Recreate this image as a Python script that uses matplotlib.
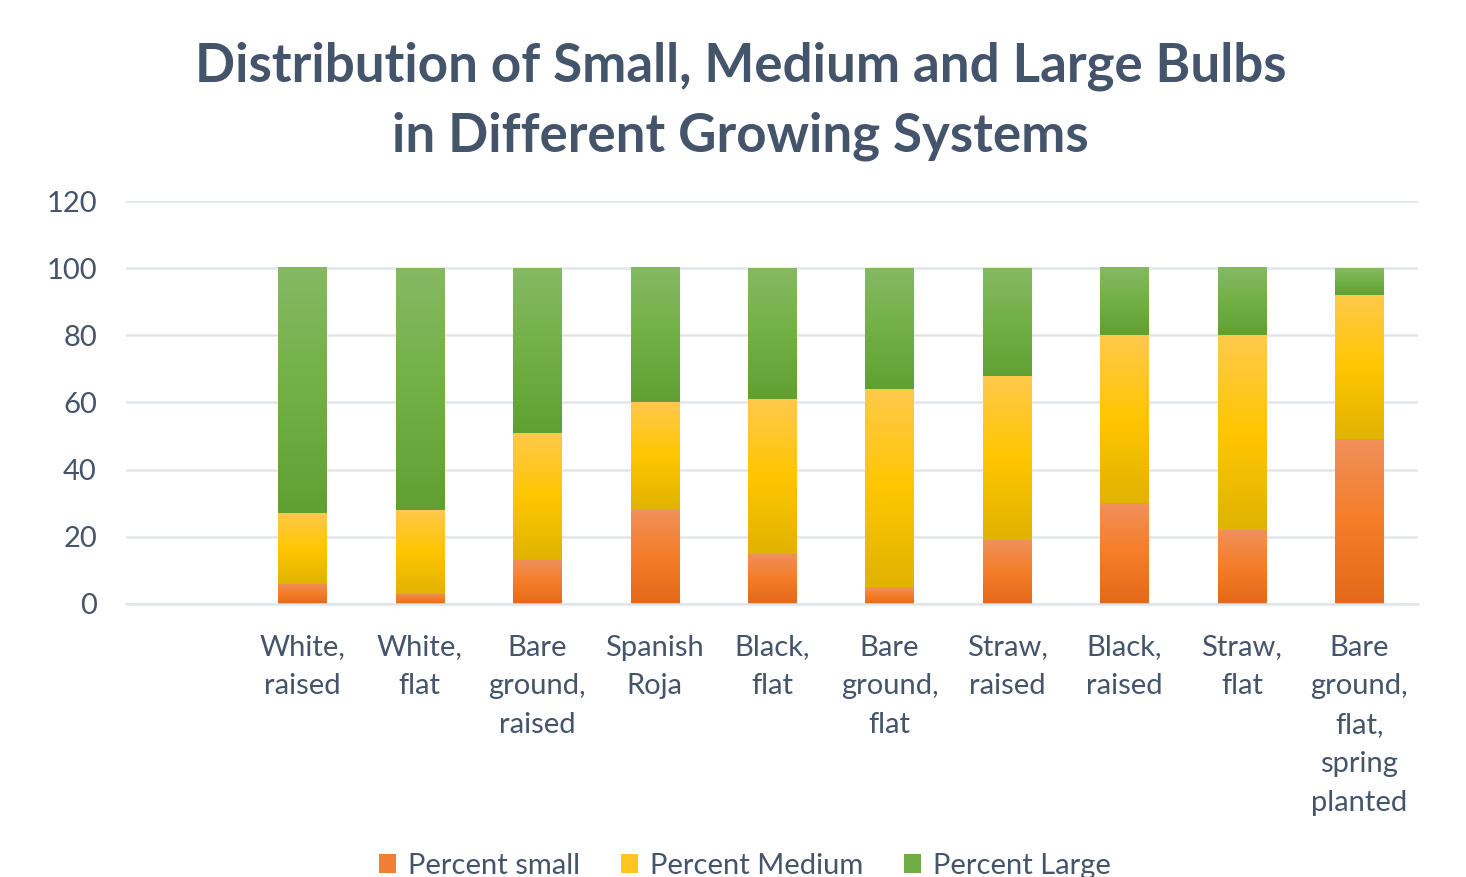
import numpy as np
import matplotlib
matplotlib.use("Agg")
import matplotlib.pyplot as plt
from matplotlib.colors import LinearSegmentedColormap
from matplotlib.patches import Patch

plt.rcParams["font.family"] = ["Lato", "DejaVu Sans"]

categories = ["", "White,\nraised", "White,\nflat", "Bare\nground,\nraised", "Spanish\nRoja",
              "Black,\nflat", "Bare\nground,\nflat", "Straw,\nraised", "Black,\nraised",
              "Straw,\nflat", "Bare\nground,\nflat,\nspring\nplanted"]
pct_small = [np.nan, 6, 3, 13, 28, 15, 5, 19, 30, 22, 49]
pct_medium = [np.nan, 21, 25, 38, 32, 46, 59, 49, 50, 58, 43]
pct_large = [np.nan, 73, 72, 49, 40, 39, 36, 32, 20, 20, 8]
series_names = ["Percent small", "Percent Medium", "Percent Large"]

# bottom -> middle -> top gradient stops for each series
gradients = {
    "small": ["#E3691A", "#F57D28", "#F0905A"],
    "medium": ["#E0B300", "#FFC600", "#FFC94C"],
    "large": ["#60A033", "#72B045", "#85B964"],
}
legend_colors = ["#F07E33", "#FFC520", "#70AD47"]
text_color = "#44546A"
grid_color = "#E1E5EB"

fig = plt.figure(figsize=(14.66, 8.77), dpi=100)
ax = fig.add_axes([0.086, 0.3113, 0.8813, 0.4595])

x = np.arange(len(categories))
small = np.array(pct_small, dtype=float)
medium = np.array(pct_medium, dtype=float)
large = np.array(pct_large, dtype=float)
width = 0.41

layers = [
    (small, np.zeros_like(small), "small"),
    (medium, small, "medium"),
    (large, small + medium, "large"),
]

grad = np.linspace(0, 1, 256).reshape(-1, 1)
for values, bottoms, key in layers:
    bars = ax.bar(x, values, width, bottom=bottoms, color="none", edgecolor="none", zorder=2)
    cmap = LinearSegmentedColormap.from_list(key, gradients[key])
    for patch in bars.patches:
        h = patch.get_height()
        if not np.isfinite(h) or h <= 0:
            continue
        x0, y0, w = patch.get_x(), patch.get_y(), patch.get_width()
        ax.imshow(grad, extent=[x0, x0 + w, y0, y0 + h], origin="lower",
                  aspect="auto", cmap=cmap, zorder=2, interpolation="bilinear")

ax.set_xlim(-0.5, len(categories) - 0.5)
ax.set_ylim(0, 120)
ax.set_yticks(np.arange(0, 121, 20))
ax.yaxis.grid(True, color=grid_color, linewidth=1.8, zorder=0)
ax.set_axisbelow(True)
for side in ["top", "right", "left"]:
    ax.spines[side].set_visible(False)
ax.spines["bottom"].set_color(grid_color)
ax.spines["bottom"].set_linewidth(1.8)

ax.set_xticks(x)
ax.set_xticklabels(categories, linespacing=1.61)
ax.tick_params(axis="both", length=0, labelsize=21, labelcolor=text_color)
ax.tick_params(axis="x", pad=22)
ax.tick_params(axis="y", pad=21)

fig.text(0.505, 0.925, "Distribution of Small, Medium and Large Bulbs",
         ha="center", va="center", fontsize=38.1, fontweight="bold", color=text_color)
fig.text(0.505, 0.845, "in Different Growing Systems",
         ha="center", va="center", fontsize=38.1, fontweight="bold", color=text_color)

handles = [Patch(facecolor=c, edgecolor="none") for c in legend_colors]
fig.legend(handles, series_names, loc="center", bbox_to_anchor=(0.508, 0.013), ncol=3,
           frameon=False, fontsize=21, labelcolor=text_color, handlelength=0.6,
           handleheight=0.6, handletextpad=0.4, columnspacing=1.4)

fig.savefig("out.png", dpi=100)
